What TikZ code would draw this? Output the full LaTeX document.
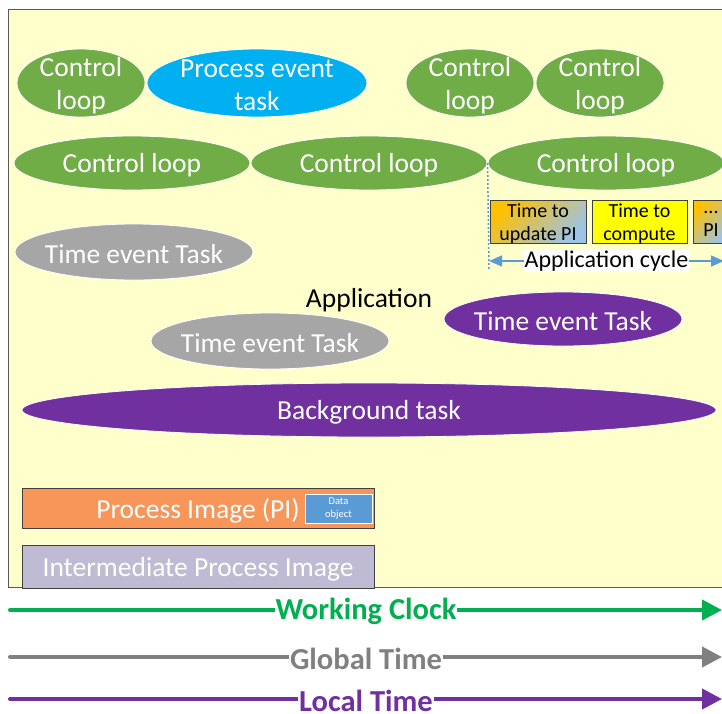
\documentclass[tikz,border=0pt]{standalone}
\usepackage{fontspec}
\setmainfont{Carlito}
\usetikzlibrary{shapes.geometric,arrows.meta}

\definecolor{paper}{RGB}{255,255,204}
\definecolor{framegray}{RGB}{89,89,89}
\definecolor{loopgreen}{RGB}{112,173,71}
\definecolor{eventblue}{RGB}{0,176,240}
\definecolor{taskgray}{RGB}{166,166,166}
\definecolor{taskpurple}{RGB}{112,48,160}
\definecolor{piorange}{RGB}{248,150,90}
\definecolor{ipililac}{RGB}{191,187,212}
\definecolor{datablue}{RGB}{91,155,213}
\definecolor{cycleblue}{RGB}{91,155,213}
\definecolor{clockgreen}{RGB}{0,176,80}
\definecolor{globalgray}{RGB}{128,128,128}
\definecolor{localpurple}{RGB}{112,48,160}
\definecolor{updateorange}{RGB}{255,192,0}
\definecolor{updateblue}{RGB}{157,195,230}
\definecolor{computeyellow}{RGB}{255,255,0}
\definecolor{boxline}{RGB}{64,64,64}

\tikzset{
  blob/.style={ellipse, draw=white, line width=0.8pt, inner sep=0pt},
  bigtext/.style={text=white, font=\fontsize{27.5}{33}\selectfont, align=center,
                  inner sep=0pt, yshift=-2.5pt},
  imagebox/.style={rectangle, draw=boxline, line width=1pt, inner sep=0pt,
                   minimum width=352pt},
  cyclebox/.style={rectangle, draw=boxline, line width=0.8pt, inner sep=0pt,
                   minimum height=43pt, align=center,
                   font=\fontsize{20}{23}\selectfont},
  gradbox/.style={top color=updateorange, bottom color=updateblue, shading angle=45},
  axisline/.style={line width=4pt, line cap=round,
                   -{Triangle[length=20pt,width=20pt]}},
  axislabel/.style={fill=white, inner xsep=1pt, inner ysep=0pt, yshift=-1.5pt,
                    font=\fontsize{30.5}{34}\selectfont\bfseries},
}

\begin{document}
\begin{tikzpicture}[x=1pt,y=-1pt]
\useasboundingbox (0,0) rectangle (722,713);
\clip (0,0) rectangle (722,713);
\fill[white] (0,0) rectangle (722,713);

% application area
\node[rectangle, fill=paper, draw=framegray, line width=1pt, inner sep=0pt,
      anchor=north west, minimum width=730pt, minimum height=578pt] (app) at (8,9) {};

% first row of tasks
\node[blob, fill=loopgreen, minimum width=128pt, minimum height=68pt] (cla) at (81,83) {};
\node[bigtext] (clat) at (cla) {Control\\loop};
\node[blob, fill=eventblue, minimum width=220pt, minimum height=68pt] (pet) at (257,83) {};
\node[bigtext] (pett) at (pet) {Process event\\task};
\node[blob, fill=loopgreen, minimum width=128pt, minimum height=68pt] (clb) at (470,83) {};
\node[bigtext] (clbt) at (clb) {Control\\loop};
\node[blob, fill=loopgreen, minimum width=128pt, minimum height=68pt] (clc) at (600,83) {};
\node[bigtext] (clct) at (clc) {Control\\loop};

% second row: periodic control loops
\node[blob, fill=loopgreen, minimum width=236pt, minimum height=54pt] (cld) at (132,163) {};
\node[bigtext] (cldt) at (cld) {Control loop};
\node[blob, fill=loopgreen, minimum width=236pt, minimum height=54pt] (cle) at (369,163) {};
\node[bigtext] (clet) at (cle) {Control loop};
\node[blob, fill=loopgreen, minimum width=236pt, minimum height=54pt] (clf) at (606,163) {};
\node[bigtext] (clft) at (clf) {Control loop};

% time event tasks
\node[blob, fill=taskgray, minimum width=238pt, minimum height=56pt] (tea) at (134,252) {};
\node[bigtext] (teat) at (tea) {Time event Task};
\node[blob, fill=taskgray, minimum width=238pt, minimum height=56pt] (teb) at (270,341) {};
\node[bigtext] (tebt) at (teb) {Time event Task};
\node[blob, fill=taskpurple, minimum width=238pt, minimum height=54pt] (tec) at (563,319) {};
\node[bigtext] (tect) at (tec) {Time event Task};

\node[bigtext, text=black] (apptitle) at (369,298) {Application};

% background task
\node[blob, fill=taskpurple, minimum width=694pt, minimum height=54pt] (bg) at (369,410) {};
\node[bigtext] (bgt) at (bg) {Background task};

% application cycle
\node[cyclebox, gradbox, minimum width=96pt] (upd) at (538,221.5) {};
\node[cyclebox, draw=none, yshift=-2pt] (updt) at (upd) {Time to\\update PI};
\node[cyclebox, fill=computeyellow, minimum width=95pt] (comp) at (639.5,221.5) {};
\node[cyclebox, draw=none, yshift=-2pt] (compt) at (comp) {Time to\\compute};
\node[cyclebox, gradbox, minimum width=36pt] (more) at (711,221.5) {};
\node[cyclebox, draw=none, yshift=-2pt] (moret) at (more) {...\\PI};

\coordinate (tickend) at (489,270);
\draw[cycleblue, line width=1.5pt, dash pattern=on 2pt off 2pt] (clf.west) -- (tickend);

\coordinate (acl) at (489,261);
\coordinate (acr) at (724,261);
\draw[cycleblue, line width=1.5pt, {Triangle[length=13pt,width=11pt]}-{Triangle[length=13pt,width=11pt]}]
  (acl) -- node[fill=white, text=black, inner sep=1pt, font=\fontsize{24}{28}\selectfont] (acyc) {Application cycle} (acr);

% process images
\node[imagebox, fill=piorange, minimum height=40pt] (pi) at (198,508) {};
\node[bigtext] (pit) at (pi) {Process Image (PI)};
\node[rectangle, fill=datablue, draw=white, line width=0.6pt, inner sep=0pt,
      minimum width=67pt, minimum height=29pt, text=white, align=center,
      font=\fontsize{10.5}{12.5}\selectfont] (dobj) at (338.5,508.5) {Data\\object};
\node[imagebox, fill=ipililac, minimum height=43pt] (ipi) at (198,566.5) {};
\node[bigtext] (ipit) at (ipi) {Intermediate Process Image};

% time bases
\coordinate (wcs) at (10,610);  \coordinate (wce) at (722,610);
\coordinate (gts) at (10,657);  \coordinate (gte) at (722,657);
\coordinate (lts) at (10,699);  \coordinate (lte) at (722,699);
\draw[axisline, clockgreen] (wcs) -- node[axislabel, text=clockgreen] (wcl) {Working Clock} (wce);
\draw[axisline, globalgray] (gts) -- node[axislabel, text=globalgray] (gtl) {Global Time} (gte);
\draw[axisline, localpurple] (lts) -- node[axislabel, text=localpurple] (ltl) {Local Time} (lte);
\end{tikzpicture}
\end{document}
